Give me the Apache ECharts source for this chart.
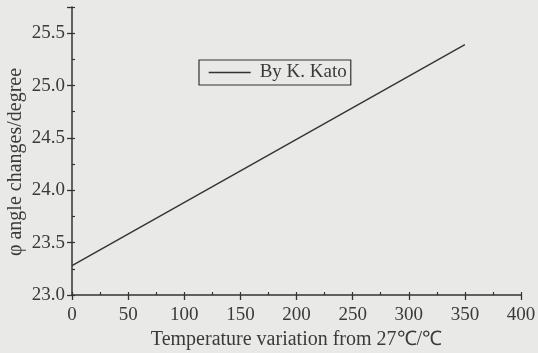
<!DOCTYPE html>
<html><head><meta charset="utf-8">
<script src="https://cdn.jsdelivr.net/npm/echarts@6/dist/echarts.min.js"></script>
<style>html,body{margin:0;padding:0;background:#e9e9e7;}#c{width:538px;height:353px;}</style>
</head><body><div id="c"></div>
<script>
var seriesName = 'By K. Kato';
var xValues = [0, 350];
var yValues = [23.28, 25.39];
var xTicks = [0, 50, 100, 150, 200, 250, 300, 350, 400];
var yTicks = [23.0, 23.5, 24.0, 24.5, 25.0, 25.5];
var xTitle = 'Temperature variation from 27\u2103/\u2103';
var yTitle = '\u03C6 angle changes/degree';

var ink = '#333333';
var font = '"Liberation Serif","Times New Roman",serif';
var chart = echarts.init(document.getElementById('c'));
var pts = xValues.map(function(x, i){ return [x, yValues[i]]; });
chart.setOption({
  backgroundColor: '#e9e9e7',
  animation: false,
  grid: {left: 72, right: 17, top: 7, bottom: 58, containLabel: false, outerBoundsMode: 'none'},
  legend: {
    left: 199, top: 60, data: [seriesName],
    borderColor: ink, borderWidth: 1.2, borderRadius: 0,
    padding: [3, 4, 3, 9], itemWidth: 42, itemHeight: 10,
    itemStyle: {opacity: 0},
    lineStyle: {color: ink, width: 1.4},
    textStyle: {fontFamily: font, fontSize: 19, color: '#3a3a3a', padding: [0, 0, 0, 4]}
  },
  xAxis: [{
    type: 'value', min: 0, max: 400, interval: 50,
    name: xTitle, nameLocation: 'middle', nameGap: 35,
    nameTextStyle: {fontFamily: font, fontSize: 20, color: '#3a3a3a'},
    axisLine: {lineStyle: {color: ink, width: 1.5}},
    axisTick: {show: true, length: 5, lineStyle: {color: ink, width: 1.3}},
    axisLabel: {fontFamily: font, fontSize: 19, color: '#3a3a3a', margin: 11,
      formatter: function(v){ return xTicks.indexOf(v) >= 0 ? String(v) : ''; }},
    splitLine: {show: false}
  }, {
    type: 'value', min: 0, max: 400, interval: 25, position: 'bottom',
    axisLine: {show: false},
    axisTick: {show: true, inside: true, length: 3, lineStyle: {color: ink, width: 1.2}},
    axisLabel: {show: false}, splitLine: {show: false}
  }],
  yAxis: [{
    type: 'value', min: 23, max: 25.75, interval: 0.5,
    axisLine: {show: true, lineStyle: {color: ink, width: 1.5}},
    axisTick: {show: true, length: 5, lineStyle: {color: ink, width: 1.3}},
    axisLabel: {fontFamily: font, fontSize: 19, color: '#3a3a3a', margin: 7,
      formatter: function(v){
        for (var i = 0; i < yTicks.length; i++) if (Math.abs(yTicks[i] - v) < 1e-6) return yTicks[i].toFixed(1);
        return '';
      }},
    splitLine: {show: false}
  }, {
    type: 'value', min: 23, max: 25.75, interval: 0.25, position: 'left',
    axisLine: {show: false},
    axisTick: {show: true, inside: true, length: 3, lineStyle: {color: ink, width: 1.2}},
    axisLabel: {show: false}, splitLine: {show: false}
  }],
  graphic: [{
    type: 'text', x: 6, y: 162, rotation: Math.PI / 2,
    style: {text: yTitle, font: '20px ' + font, fill: '#3a3a3a', textAlign: 'center', textVerticalAlign: 'top'}
  }],
  series: [{
    name: seriesName, type: 'line', data: pts, symbol: 'none',
    xAxisIndex: 0, yAxisIndex: 0,
    itemStyle: {color: ink},
    lineStyle: {color: ink, width: 1.4}
  }]
});
</script></body></html>
